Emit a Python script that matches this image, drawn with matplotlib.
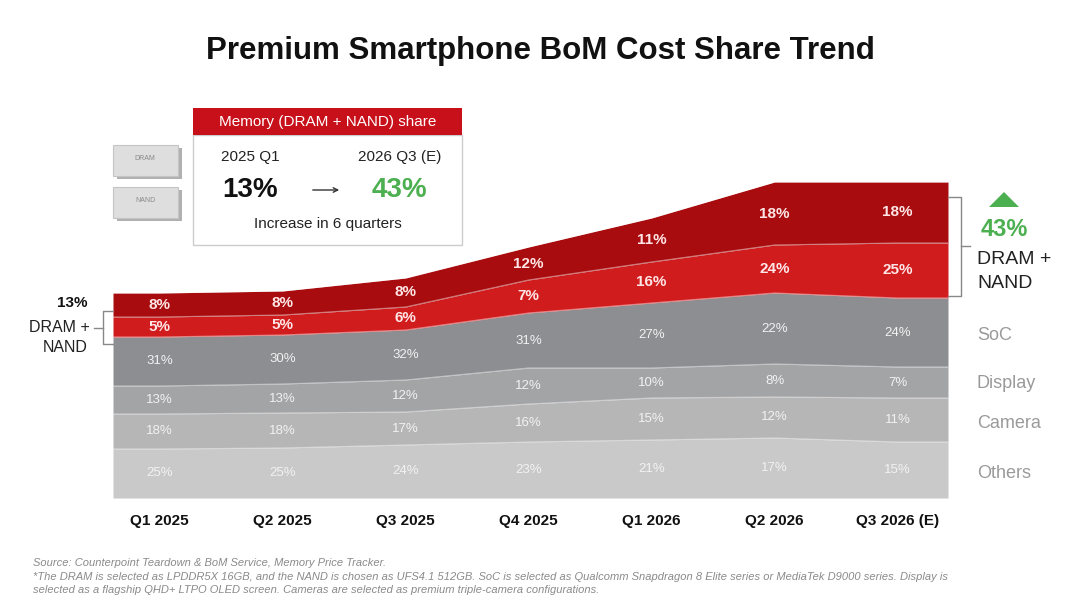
import matplotlib.pyplot as plt
import numpy as np
from matplotlib.patches import Rectangle, Polygon
from matplotlib import font_manager

# Quarters on the x axis
quarters = ['Q1 2025', 'Q2 2025', 'Q3 2025', 'Q4 2025', 'Q1 2026', 'Q2 2026', 'Q3 2026 (E)']
layers = ['Others', 'Camera', 'Display', 'SoC', 'NAND', 'DRAM']

# Share labels (%) per layer, bottom to top
share_others = [25, 25, 24, 23, 21, 17, 15]
share_camera = [18, 18, 17, 16, 15, 12, 11]
share_display = [13, 13, 12, 12, 10, 8, 7]
share_soc = [31, 30, 32, 31, 27, 22, 24]
share_nand = [5, 5, 6, 7, 16, 24, 25]
share_dram = [8, 8, 8, 12, 11, 18, 18]

# Band thickness as drawn (cost index)
band_others = [49, 50, 53, 56, 58, 60, 56]
band_camera = [35, 35, 33, 38, 42, 41, 44]
band_display = [28, 29, 32, 36, 30, 33, 31]
band_soc = [49, 49, 50, 55, 65, 71, 69]
band_nand = [20, 20, 23, 33, 41, 48, 55]
band_dram = [24, 24, 29, 33, 44, 63, 61]

mem_start, mem_end = 13, 43

def pick_font(names):
    have = {f.name for f in font_manager.fontManager.ttflist}
    for n in names:
        if n in have:
            return n
    return 'DejaVu Sans'

sans = pick_font(['Liberation Sans', 'Arial', 'DejaVu Sans'])
plt.rcParams['font.family'] = [sans, 'DejaVu Sans']

W, H = 1080, 608
fig = plt.figure(figsize=(W / 100, H / 100), dpi=100)

# overlay axes in pixel coordinates for annotations
ov = fig.add_axes([0, 0, 1, 1])
ov.set_xlim(0, W)
ov.set_ylim(H, 0)
ov.axis('off')

# chart axes
left, right, bottom, top = 113, 948, 498, 170
x0, x1 = -0.38, 6.41
ax = fig.add_axes([left / W, 1 - bottom / H, (right - left) / W, (bottom - top) / H])
ax.set_xlim(x0, x1)
ax.set_ylim(0, bottom - top)
ax.axis('off')
ax.set_zorder(1)
ov.set_zorder(2)

x = np.arange(len(quarters))
xe = np.concatenate([[x0], x, [x1]])
bands = [band_others, band_camera, band_display, band_soc, band_nand, band_dram]
shares = [share_others, share_camera, share_display, share_soc, share_nand, share_dram]
colors = ['#c9c9c9', '#b6b6b7', '#a3a4a6', '#8c8e92', '#d11c1e', '#a80c0e']

base = np.zeros(len(xe))
centers = []
for band, col in zip(bands, colors):
    b = np.array(band, dtype=float)
    b = np.concatenate([[b[0]], b, [b[-1]]])
    ax.fill_between(xe, base, base + b, color=col, lw=0)
    ax.plot(xe, base + b, color='white', lw=0.8, alpha=0.45)
    centers.append((base + b / 2)[1:-1])
    base = base + b

for i, (sh, cen) in enumerate(zip(shares, centers)):
    red = i >= 4
    for xi, v, c in zip(x, sh, cen):
        ax.text(xi, c, f'{v}%', ha='center', va='center',
                color='#ffe6e6' if red else '#f2f2f2',
                fontsize=11 if red else 9.5,
                fontweight='bold' if red else 'normal')

# title
ov.text(540, 51, 'Premium Smartphone BoM Cost Share Trend', ha='center', va='center',
        fontsize=22.5, fontweight='bold', color='#111111')

# x labels under each quarter
for xi, q in zip(x, quarters):
    xp = left + (xi - x0) / (x1 - x0) * (right - left)
    ov.text(xp, 521, q, ha='center', va='center', fontsize=11, fontweight='bold', color='#111111')

# left annotation
ov.text(88, 303, f'{mem_start}%', ha='right', va='center', fontsize=11, fontweight='bold', color='#111111')
ov.text(90, 328, 'DRAM +', ha='right', va='center', fontsize=11.5, color='#222222')
ov.text(88, 347, 'NAND', ha='right', va='center', fontsize=11.5, color='#222222')
ov.plot([113, 103, 103, 113], [311, 311, 344, 344], color='#888888', lw=1)
ov.plot([94, 103], [328, 328], color='#888888', lw=1)

# right annotation
ov.plot([948, 961, 961, 948], [197, 197, 296, 296], color='#888888', lw=1)
ov.plot([961, 970], [246, 246], color='#888888', lw=1)
ov.add_patch(Polygon([[989, 207], [1019, 207], [1004, 192]], closed=True, color='#4caf50', lw=0))
ov.text(1004, 230, f'{mem_end}%', ha='center', va='center', fontsize=17, fontweight='bold', color='#4caf50')
ov.text(977, 259, 'DRAM +', ha='left', va='center', fontsize=14, color='#222222')
ov.text(977, 284, 'NAND', ha='left', va='center', fontsize=14, color='#222222')
for lab, yp in zip(['SoC', 'Display', 'Camera', 'Others'], [335, 383, 423, 474]):
    ov.text(977, yp, lab, ha='left', va='center', fontsize=13, color='#9a9a9a')

# memory share box
ov.add_patch(Rectangle((193, 135), 269, 110, facecolor='white', edgecolor='#cccccc', lw=1))
ov.add_patch(Rectangle((193, 108), 269, 27, facecolor='#c8101a', edgecolor='none'))
ov.text(328, 122, 'Memory (DRAM + NAND) share', ha='center', va='center', fontsize=11, color='white')
ov.text(250, 157, '2025 Q1', ha='center', va='center', fontsize=11, color='#222222')
ov.text(400, 157, '2026 Q3 (E)', ha='center', va='center', fontsize=11, color='#222222')
ov.text(250, 190, f'{mem_start}%', ha='center', va='center', fontsize=20, fontweight='bold', color='#111111')
ov.text(399, 190, f'{mem_end}%', ha='center', va='center', fontsize=20, fontweight='bold', color='#4caf50')
ov.annotate('', xy=(342, 190), xytext=(310, 190),
            arrowprops=dict(arrowstyle='->', color='#333333', lw=1, mutation_scale=8))
ov.text(328, 224, 'Increase in 6 quarters', ha='center', va='center', fontsize=11, color='#222222')

# chip icons
for yy, lab in [(145, 'DRAM'), (187, 'NAND')]:
    ov.add_patch(Rectangle((117, yy + 3), 65, 31, facecolor='#b0b0b0', edgecolor='none'))
    ov.add_patch(Rectangle((113, yy), 65, 31, facecolor='#dedede', edgecolor='#c4c4c4', lw=0.8))
    ov.text(145, yy + 14, lab, ha='center', va='center', fontsize=5, color='#8a8a8a')

# footnote
notes = ['Source: Counterpoint Teardown & BoM Service, Memory Price Tracker.',
         '*The DRAM is selected as LPDDR5X 16GB, and the NAND is chosen as UFS4.1 512GB. SoC is selected as Qualcomm '
         'Snapdragon 8 Elite series or MediaTek D9000 series. Display is',
         'selected as a flagship QHD+ LTPO OLED screen. Cameras are selected as premium triple-camera configurations.']
for k, t in enumerate(notes):
    ov.text(33, 563 + 13.5 * k, t, ha='left', va='center', fontsize=8, style='italic', color='#8a8a8a')

fig.savefig('out.png', dpi=100)
